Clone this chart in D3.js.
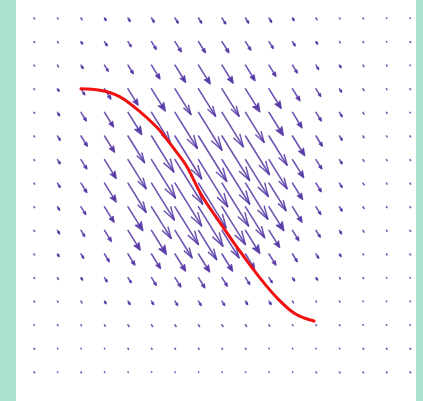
<!DOCTYPE html>
<html>
<head>
<meta charset="utf-8">
<script src="https://cdn.jsdelivr.net/npm/d3@7"></script>
<style>
  body { margin: 0; background: #a8e2cc; }
  svg { display: block; }
</style>
</head>
<body>
<script>
var width = 423, height = 401;

// grid of sample points (data units)
var xs = [-4,-3.5,-3,-2.5,-2,-1.5,-1,-0.5,0,0.5,1,1.5,2,2.5,3,3.5,4];
var ys = [3.75,3.25,2.75,2.25,1.75,1.25,0.75,0.25,-0.25,-0.75,-1.25,-1.75,-2.25,-2.75,-3.25,-3.75];

// common direction of the field (dx, dy in data units)
var dirX = 0.53, dirY = -0.85;

// magnitude of the field at each grid point, one row per ys value
var mag = [
  [0.1,0.1,0.2,0.3,0.4,0.5,0.6,0.6,0.7,0.6,0.5,0.3,0.2,0.1,0.1,0.05,0.05],
  [0.1,0.15,0.3,0.5,0.6,0.9,1.2,1.3,1.3,1.0,0.8,0.5,0.3,0.15,0.1,0.05,0.1],
  [0.1,0.2,0.4,0.7,1.0,1.6,2.0,2.2,2.1,1.8,1.3,0.9,0.5,0.3,0.15,0.1,0.05],
  [0.1,0.3,0.7,1.2,1.9,2.6,3.0,3.2,3.2,2.7,2.3,1.4,0.9,0.4,0.2,0.1,0.1],
  [0.1,0.4,1.0,1.7,2.6,3.5,4.2,4.4,4.0,3.5,2.7,1.8,1.0,0.5,0.2,0.1,0.05],
  [0.1,0.5,1.2,1.9,3.1,4.2,5.0,5.3,5.2,4.5,3.4,2.3,1.2,0.5,0.2,0.1,0.1],
  [0.1,0.5,1.1,2.2,3.4,4.5,5.2,5.5,5.2,4.3,3.4,2.1,1.1,0.5,0.2,0.1,0.1],
  [0.1,0.5,1.1,2.2,3.4,4.3,5.0,5.2,5.0,4.2,3.2,1.9,1.0,0.5,0.2,0.1,0.1],
  [0.1,0.4,0.9,1.8,2.8,3.7,4.4,4.6,4.4,3.6,2.8,1.8,0.9,0.5,0.2,0.1,0.1],
  [0.1,0.4,0.7,1.3,2.3,2.8,3.2,3.4,3.2,2.7,2.0,1.2,0.8,0.4,0.2,0.1,0.1],
  [0.1,0.3,0.5,0.9,1.3,1.7,2.0,2.1,2.0,1.7,1.3,0.9,0.5,0.3,0.1,0.1,0.1],
  [0.1,0.2,0.3,0.5,0.6,0.9,1.1,1.2,1.0,0.8,0.6,0.4,0.3,0.15,0.1,0.05,0.05],
  [0.1,0.1,0.2,0.3,0.4,0.4,0.5,0.5,0.5,0.4,0.4,0.2,0.1,0.1,0.05,0.05,0.05],
  [0.05,0.1,0.1,0.15,0.2,0.2,0.2,0.2,0.2,0.2,0.15,0.1,0.1,0.1,0.05,0.05,0.05],
  [0.1,0.05,0.05,0.05,0.1,0.1,0.1,0.1,0.1,0.1,0.05,0.05,0.05,0.05,0.1,0.1,0.1],
  [0.1,0.05,0.1,0.05,0.05,0.05,0.05,0.05,0.05,0.05,0.05,0.05,0.1,0.1,0.1,0.1,0.1]
];

// red curve
var curveX = [-3.0,-2.6,-2.17,-1.74,-1.32,-1.0,-0.74,-0.47,-0.04,0.38,0.81,1.19,1.53,1.96];
var curveY = [2.25,2.22,2.08,1.76,1.36,0.95,0.59,0.06,-0.59,-1.19,-1.76,-2.2,-2.5,-2.67];

var svg = d3.select("body").append("svg")
  .attr("width", width)
  .attr("height", height);

svg.append("rect")
  .attr("x", 16)
  .attr("y", 0)
  .attr("width", 400)
  .attr("height", height)
  .style("fill", "#fff");

var x = d3.scaleLinear().domain([-4, 4]).range([34, 410]);
var y = d3.scaleLinear().domain([3.75, -3.75]).range([18, 372]);
// magnitude -> length in data units
var len = d3.scaleLinear().domain([0, 1]).range([0, 0.213]);

var arrows = [];
for (var j = 0; j < ys.length; j++) {
  for (var i = 0; i < xs.length; i++) {
    var d = {x: xs[i], y: ys[j], m: mag[j][i]};
    var l = len(d.m);
    d.x0 = x(d.x); d.y0 = y(d.y);
    d.x1 = x(d.x + dirX * l); d.y1 = y(d.y + dirY * l);
    var dx = d.x1 - d.x0, dy = d.y1 - d.y0;
    d.L = Math.sqrt(dx * dx + dy * dy);
    d.ux = d.L > 0 ? dx / d.L : 0;
    d.uy = d.L > 0 ? dy / d.L : 0;
    d.open = d.L > 30;   // big arrows get an open V head
    arrows.push(d);
  }
}

function headSize(d) {
  return Math.min(13, Math.max(2, 0.3 * d.L), 0.6 * d.L);
}

function shaftPath(d) {
  if (d.L < 3) {
    return "M" + d.x0 + "," + d.y0 + "L" + (d.x0 + d.ux * d.L) + "," + (d.y0 + d.uy * d.L);
  }
  var h = d.open ? 0 : headSize(d) * 0.5;
  return "M" + d.x0 + "," + d.y0 + "L" + (d.x1 - d.ux * h) + "," + (d.y1 - d.uy * h);
}

function headPath(d) {
  if (d.L < 3) return "";
  var h = headSize(d);
  var w = (d.open ? 0.3 : 0.4) * h;
  var bx = d.x1 - d.ux * h, by = d.y1 - d.uy * h;
  if (d.open) {
    return "M" + (bx - d.uy * w) + "," + (by + d.ux * w) +
      "L" + d.x1 + "," + d.y1 +
      "L" + (bx + d.uy * w) + "," + (by - d.ux * w);
  }
  var nx = d.x1 - d.ux * h * 0.75, ny = d.y1 - d.uy * h * 0.75;
  return "M" + d.x1 + "," + d.y1 +
    "L" + (bx - d.uy * w) + "," + (by + d.ux * w) +
    "L" + nx + "," + ny +
    "L" + (bx + d.uy * w) + "," + (by - d.ux * w) + "Z";
}

var arrowG = svg.selectAll(".arrow").data(arrows)
  .enter().append("g")
  .attr("class", "arrow");

arrowG.append("path")
  .attr("d", shaftPath)
  .style("fill", "none")
  .style("stroke", "#5535a5")
  .style("stroke-opacity", 0.85)
  .style("stroke-width", 1.6)
  .style("stroke-linecap", "round");

arrowG.append("path")
  .attr("d", headPath)
  .style("fill", function(d) { return d.open ? "none" : "#5535a5"; })
  .style("fill-opacity", 0.85)
  .style("stroke", "#5535a5")
  .style("stroke-opacity", 0.85)
  .style("stroke-width", 1.5)
  .style("stroke-linecap", "round")
  .style("stroke-linejoin", "round");

var line = d3.line()
  .x(function(d) { return x(d[0]); })
  .y(function(d) { return y(d[1]); })
  .curve(d3.curveMonotoneX);

svg.append("path")
  .datum(d3.zip(curveX, curveY))
  .attr("d", line)
  .style("fill", "none")
  .style("stroke", "#f01010")
  .style("stroke-width", 3)
  .style("stroke-linecap", "round");
</script>
</body>
</html>
